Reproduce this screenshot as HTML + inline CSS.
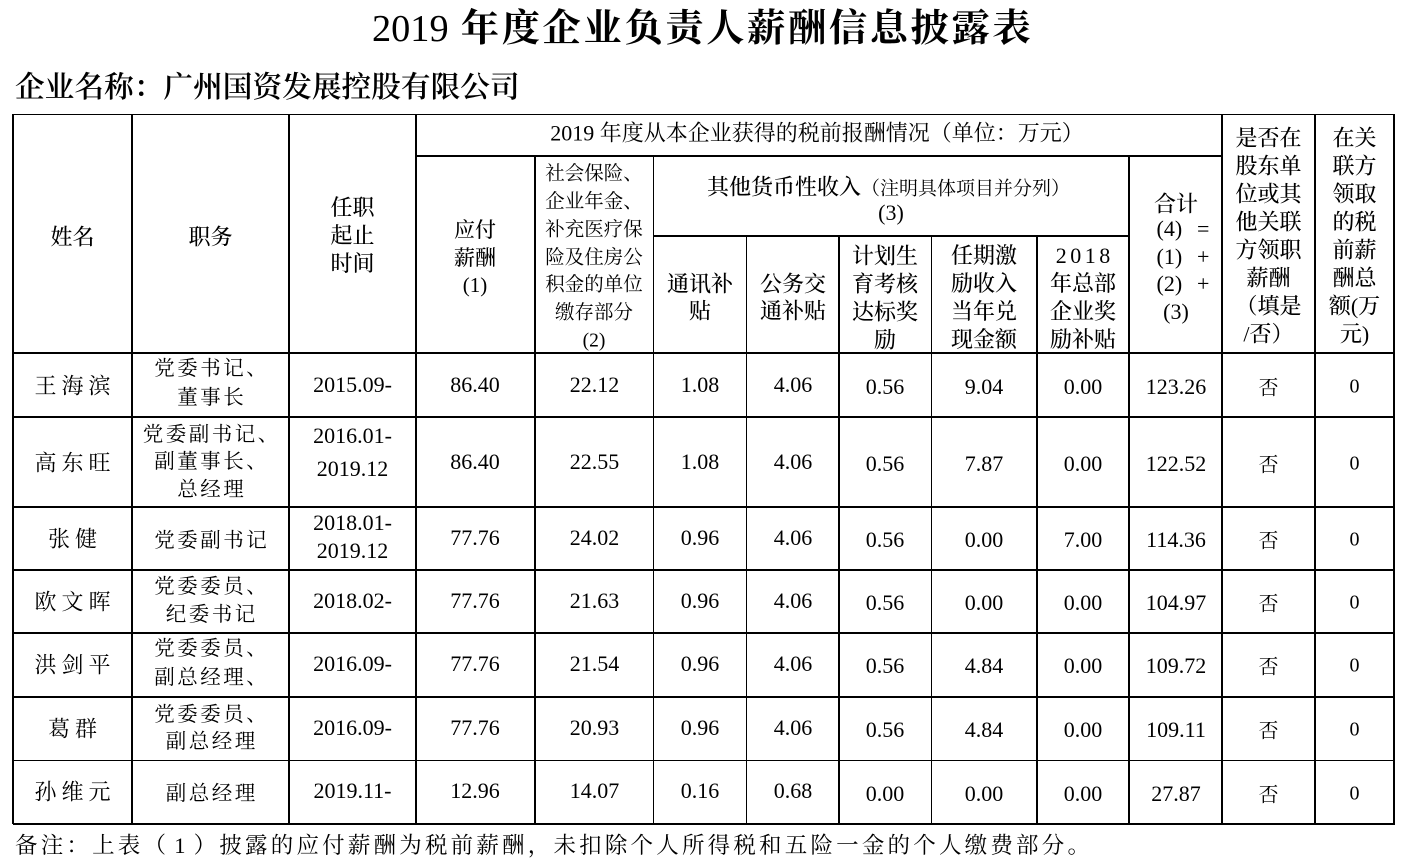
<!DOCTYPE html>
<html>
<head>
<meta charset="utf-8">
<style>
html,body{margin:0;padding:0;background:#fff;}
body{width:1404px;height:868px;position:relative;overflow:hidden;color:#000;
font-family:"Liberation Serif","Noto Serif CJK SC",serif;}
.h{position:absolute;height:1.3px;background:#000;}
.v{position:absolute;width:1.3px;background:#000;}
.t{position:absolute;transform:translate(-50%,-50%);white-space:nowrap;text-align:center;}
.a{position:absolute;transform:translateY(-50%);white-space:nowrap;}
.hd{font-size:22px;}
.hw{font-weight:500;}
.nm{font-size:22px;letter-spacing:5px;padding-left:5px;}
.jw{font-size:20.5px;letter-spacing:2.5px;padding-left:2.5px;}
.n{font-size:22px;}
.f{font-size:20px;}
</style>
</head>
<body>
<!-- Title -->
<div class="a" style="left:372px;top:29px;font-size:38.3px;line-height:44px;"><span>2019</span><span style="font-weight:700;letter-spacing:2.6px;"> 年度企业负责人薪酬信息披露表</span></div>
<div class="a" style="left:15px;top:87.5px;font-size:29.7px;line-height:36px;font-weight:600;">企业名称：广州国资发展控股有限公司</div>

<!-- horizontal lines -->
<div class="h" style="left:13px;top:113.9px;width:1382px;"></div>
<div class="h" style="left:416px;top:155.4px;width:806px;"></div>
<div class="h" style="left:653.5px;top:235.4px;width:476px;"></div>
<div class="h" style="left:13px;top:352.4px;width:1382px;"></div>
<div class="h" style="left:13px;top:416.4px;width:1382px;"></div>
<div class="h" style="left:13px;top:506.4px;width:1382px;"></div>
<div class="h" style="left:13px;top:569.4px;width:1382px;"></div>
<div class="h" style="left:13px;top:632.4px;width:1382px;"></div>
<div class="h" style="left:13px;top:696.4px;width:1382px;"></div>
<div class="h" style="left:13px;top:759.9px;width:1382px;"></div>
<div class="h" style="left:13px;top:823.4px;width:1382px;"></div>

<!-- vertical lines -->
<div class="v" style="left:12.4px;top:114px;height:710px;"></div>
<div class="v" style="left:131.4px;top:114px;height:710px;"></div>
<div class="v" style="left:288.4px;top:114px;height:710px;"></div>
<div class="v" style="left:415.4px;top:114px;height:710px;"></div>
<div class="v" style="left:1221.4px;top:114px;height:710px;"></div>
<div class="v" style="left:1314.4px;top:114px;height:710px;"></div>
<div class="v" style="left:1393.4px;top:114px;height:710px;"></div>
<div class="v" style="left:534.4px;top:156px;height:668px;"></div>
<div class="v" style="left:652.9px;top:156px;height:668px;"></div>
<div class="v" style="left:1128.4px;top:156px;height:668px;"></div>
<div class="v" style="left:745.9px;top:236px;height:588px;"></div>
<div class="v" style="left:838.4px;top:236px;height:588px;"></div>
<div class="v" style="left:930.9px;top:236px;height:588px;"></div>
<div class="v" style="left:1036.4px;top:236px;height:588px;"></div>

<!-- Header text -->
<div class="t hd hw" style="left:72.5px;top:236px;">姓名</div>
<div class="t hd hw" style="left:210.5px;top:236px;">职务</div>
<div class="t hd hw" style="left:352.5px;top:236px;line-height:28px;">任职<br>起止<br>时间</div>
<div class="t hd" style="left:817px;top:131.5px;">2019 年度从本企业获得的税前报酬情况（单位：万元）</div>
<div class="t hw" style="left:475px;top:258px;line-height:27.5px;font-size:21px;">应付<br>薪酬<br>(1)</div>
<div class="t" style="left:594px;top:258.3px;line-height:27.8px;font-size:19.5px;">社会保险、<br>企业年金、<br>补充医疗保<br>险及住房公<br>积金的单位<br>缴存部分<br>(2)</div>
<div class="t hw" style="left:888.5px;top:186px;font-size:22px;">其他货币性收入<span style="font-size:19px;font-weight:400;">（注明具体项目并分列）</span></div>
<div class="t hd" style="left:891px;top:213px;">(3)</div>
<div class="t hd hw" style="left:700px;top:298.3px;line-height:26.7px;">通讯补<br>贴</div>
<div class="t hd hw" style="left:793px;top:298.3px;line-height:26.7px;">公务交<br>通补贴</div>
<div class="t hd hw" style="left:885px;top:298.3px;line-height:27.8px;">计划生<br>育考核<br>达标奖<br>励</div>
<div class="t hd hw" style="left:984px;top:297.5px;line-height:28px;">任期激<br>励收入<br>当年兑<br>现金额</div>
<div class="t hd hw" style="left:1083px;top:297.5px;line-height:28px;"><span style="letter-spacing:3.5px;padding-left:3.5px;">2018</span><br>年总部<br>企业奖<br>励补贴</div>
<div class="t hd hw" style="left:1176px;top:202.7px;">合计</div>
<div class="a hd" style="left:1156.5px;top:229px;">(4)</div>
<div class="a hd" style="left:1197px;top:229px;">=</div>
<div class="a hd" style="left:1156.5px;top:256.7px;">(1)</div>
<div class="a hd" style="left:1197px;top:256.7px;">+</div>
<div class="a hd" style="left:1156.5px;top:284px;">(2)</div>
<div class="a hd" style="left:1197px;top:284px;">+</div>
<div class="t hd" style="left:1176px;top:311.7px;">(3)</div>
<div class="t hd hw" style="left:1268.5px;top:236.7px;line-height:28.1px;">是否在<br>股东单<br>位或其<br>他关联<br>方领职<br>薪酬<br>（填是<br>/否）</div>
<div class="t hd hw" style="left:1354.5px;top:236.7px;line-height:28.1px;">在关<br>联方<br>领取<br>的税<br>前薪<br>酬总<br>额(万<br>元)</div>

<!-- Row 1 -->
<div class="t nm" style="left:72.5px;top:384.5px;">王海滨</div>
<div class="t jw" style="left:210.5px;top:383.5px;line-height:29px;">党委书记、<br>董事长</div>
<div class="t n" style="left:352.5px;top:385px;">2015.09-</div>
<div class="t n" style="left:475px;top:385px;">86.40</div>
<div class="t n" style="left:594.5px;top:385px;">22.12</div>
<div class="t n" style="left:700px;top:385px;">1.08</div>
<div class="t n" style="left:793px;top:385px;">4.06</div>
<div class="t n" style="left:885px;top:387px;">0.56</div>
<div class="t n" style="left:984px;top:387px;">9.04</div>
<div class="t n" style="left:1083px;top:387px;">0.00</div>
<div class="t n" style="left:1176px;top:387px;">123.26</div>
<div class="t f" style="left:1268.5px;top:386px;">否</div>
<div class="t f" style="left:1354.5px;top:387px;">0</div>

<!-- Row 2 -->
<div class="t nm" style="left:72.5px;top:462px;">高东旺</div>
<div class="t jw" style="left:210.5px;top:462.5px;line-height:27.5px;">党委副书记、<br>副董事长、<br>总经理</div>
<div class="t n" style="left:352.5px;top:451.5px;line-height:33px;">2016.01-<br>2019.12</div>
<div class="t n" style="left:475px;top:462px;">86.40</div>
<div class="t n" style="left:594.5px;top:462px;">22.55</div>
<div class="t n" style="left:700px;top:462px;">1.08</div>
<div class="t n" style="left:793px;top:462px;">4.06</div>
<div class="t n" style="left:885px;top:464px;">0.56</div>
<div class="t n" style="left:984px;top:464px;">7.87</div>
<div class="t n" style="left:1083px;top:464px;">0.00</div>
<div class="t n" style="left:1176px;top:464px;">122.52</div>
<div class="t f" style="left:1268.5px;top:463px;">否</div>
<div class="t f" style="left:1354.5px;top:464px;">0</div>

<!-- Row 3 -->
<div class="t nm" style="left:72.5px;top:537.5px;">张健</div>
<div class="t jw" style="left:210.5px;top:537.5px;">党委副书记</div>
<div class="t n" style="left:352.5px;top:537px;line-height:28px;">2018.01-<br>2019.12</div>
<div class="t n" style="left:475px;top:538px;">77.76</div>
<div class="t n" style="left:594.5px;top:538px;">24.02</div>
<div class="t n" style="left:700px;top:538px;">0.96</div>
<div class="t n" style="left:793px;top:538px;">4.06</div>
<div class="t n" style="left:885px;top:540px;">0.56</div>
<div class="t n" style="left:984px;top:540px;">0.00</div>
<div class="t n" style="left:1083px;top:540px;">7.00</div>
<div class="t n" style="left:1176px;top:540px;">114.36</div>
<div class="t f" style="left:1268.5px;top:539px;">否</div>
<div class="t f" style="left:1354.5px;top:540px;">0</div>

<!-- Row 4 -->
<div class="t nm" style="left:72.5px;top:601px;">欧文晖</div>
<div class="t jw" style="left:210.5px;top:601px;line-height:28px;">党委委员、<br>纪委书记</div>
<div class="t n" style="left:352.5px;top:601px;">2018.02-</div>
<div class="t n" style="left:475px;top:601px;">77.76</div>
<div class="t n" style="left:594.5px;top:601px;">21.63</div>
<div class="t n" style="left:700px;top:601px;">0.96</div>
<div class="t n" style="left:793px;top:601px;">4.06</div>
<div class="t n" style="left:885px;top:603px;">0.56</div>
<div class="t n" style="left:984px;top:603px;">0.00</div>
<div class="t n" style="left:1083px;top:603px;">0.00</div>
<div class="t n" style="left:1176px;top:603px;">104.97</div>
<div class="t f" style="left:1268.5px;top:602px;">否</div>
<div class="t f" style="left:1354.5px;top:603px;">0</div>

<!-- Row 5 -->
<div class="t nm" style="left:72.5px;top:663.5px;">洪剑平</div>
<div class="t jw" style="left:210.5px;top:663.5px;line-height:29px;">党委委员、<br>副总经理、</div>
<div class="t n" style="left:352.5px;top:664px;">2016.09-</div>
<div class="t n" style="left:475px;top:664px;">77.76</div>
<div class="t n" style="left:594.5px;top:664px;">21.54</div>
<div class="t n" style="left:700px;top:664px;">0.96</div>
<div class="t n" style="left:793px;top:664px;">4.06</div>
<div class="t n" style="left:885px;top:666px;">0.56</div>
<div class="t n" style="left:984px;top:666px;">4.84</div>
<div class="t n" style="left:1083px;top:666px;">0.00</div>
<div class="t n" style="left:1176px;top:666px;">109.72</div>
<div class="t f" style="left:1268.5px;top:665px;">否</div>
<div class="t f" style="left:1354.5px;top:666px;">0</div>

<!-- Row 6 -->
<div class="t nm" style="left:72.5px;top:727.5px;">葛群</div>
<div class="t jw" style="left:210.5px;top:728.5px;line-height:27px;">党委委员、<br>副总经理</div>
<div class="t n" style="left:352.5px;top:728px;">2016.09-</div>
<div class="t n" style="left:475px;top:728px;">77.76</div>
<div class="t n" style="left:594.5px;top:728px;">20.93</div>
<div class="t n" style="left:700px;top:728px;">0.96</div>
<div class="t n" style="left:793px;top:728px;">4.06</div>
<div class="t n" style="left:885px;top:730px;">0.56</div>
<div class="t n" style="left:984px;top:730px;">4.84</div>
<div class="t n" style="left:1083px;top:730px;">0.00</div>
<div class="t n" style="left:1176px;top:730px;">109.11</div>
<div class="t f" style="left:1268.5px;top:729px;">否</div>
<div class="t f" style="left:1354.5px;top:730px;">0</div>

<!-- Row 7 -->
<div class="t nm" style="left:72.5px;top:790.5px;">孙维元</div>
<div class="t jw" style="left:210.5px;top:790.5px;">副总经理</div>
<div class="t n" style="left:352.5px;top:791px;">2019.11-</div>
<div class="t n" style="left:475px;top:791px;">12.96</div>
<div class="t n" style="left:594.5px;top:791px;">14.07</div>
<div class="t n" style="left:700px;top:791px;">0.16</div>
<div class="t n" style="left:793px;top:791px;">0.68</div>
<div class="t n" style="left:885px;top:794px;">0.00</div>
<div class="t n" style="left:984px;top:794px;">0.00</div>
<div class="t n" style="left:1083px;top:794px;">0.00</div>
<div class="t n" style="left:1176px;top:794px;">27.87</div>
<div class="t f" style="left:1268.5px;top:793px;">否</div>
<div class="t f" style="left:1354.5px;top:794px;">0</div>

<!-- Footer -->
<div class="a" style="left:15px;top:845.5px;font-size:22.5px;letter-spacing:3.2px;line-height:30px;">备注：上表（<span style="margin:0 5px;">1</span>）披露的应付薪酬为税前薪酬，未扣除个人所得税和五险一金的个人缴费部分。</div>
</body>
</html>
